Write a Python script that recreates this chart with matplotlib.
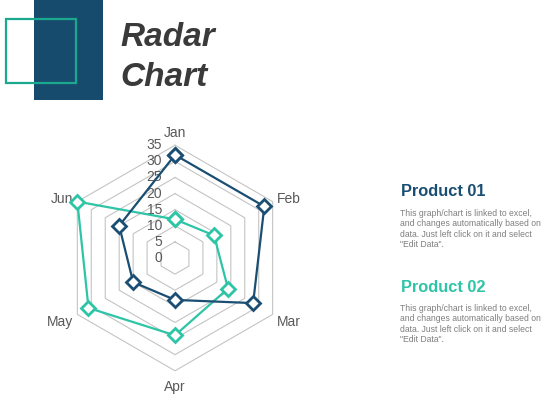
import numpy as np
import matplotlib
matplotlib.use("Agg")
import matplotlib.pyplot as plt
from matplotlib.patches import Rectangle

plt.rcParams["font.family"] = ["Liberation Sans", "DejaVu Sans"]

MONTHS = ["Jan", "Feb", "Mar", "Apr", "May", "Jun"]
PRODUCT_01 = [32, 32, 28, 13, 15, 20]
PRODUCT_02 = [12, 14, 19, 24, 31, 35]
RING_TICKS = [0, 5, 10, 15, 20, 25, 30, 35]
SERIES_NAMES = ["Product 01", "Product 02"]
BLURB = ('This graph/chart is linked to excel,\nand changes automatically based on\n'
         'data. Just left click on it and select\n"Edit Data".')

DARK = "#1a4e72"
TEAL = "#2ec4a6"
GRID = "#c4c4c4"
TEXT = "#595959"


def to_xy(values):
    ang = np.pi / 2 - np.arange(len(MONTHS)) * 2 * np.pi / len(MONTHS)
    r = np.asarray(values, dtype=float)
    return r * np.cos(ang), r * np.sin(ang)


fig = plt.figure(figsize=(5.6, 4.2), dpi=100)

# header / decorations in pixel coordinates
deco = fig.add_axes([0, 0, 1, 1])
deco.set_xlim(0, 560)
deco.set_ylim(420, 0)
deco.axis("off")
deco.add_patch(Rectangle((34, 0), 69, 100, facecolor="#174b6e", edgecolor="none"))
deco.add_patch(Rectangle((6, 19), 70, 64, facecolor="none", edgecolor="#1aa88e", lw=1.6))
deco.text(120, 37, "Radar", fontsize=24, fontweight="bold", fontstyle="italic",
          color="#3a3a3a", va="center")
deco.text(120, 77, "Chart", fontsize=24, fontweight="bold", fontstyle="italic",
          color="#3a3a3a", va="center")

for name, col, y0 in zip(SERIES_NAMES, [DARK, TEAL], [192, 287]):
    deco.text(401, y0, name, fontsize=11.8, fontweight="bold", color=col, va="center")
    deco.text(400, y0 + 17, BLURB, fontsize=6.2, color="#7f7f7f", va="top",
              linespacing=1.2)

# radar chart
ax = fig.add_axes([30 / 560, 17 / 420, 290 / 560, 290 / 420])
ax.set_xlim(-45, 45)
ax.set_ylim(-45, 45)
ax.set_aspect("equal")
ax.axis("off")

for t in RING_TICKS[1:]:
    gx, gy = to_xy([t] * len(MONTHS))
    ax.plot(np.append(gx, gx[0]), np.append(gy, gy[0]), color=GRID, lw=0.8, zorder=1)
for t in RING_TICKS:
    ax.text(-4, t, str(t), fontsize=10, color=TEXT, ha="right", va="center")

lx, ly = to_xy([36.5] * len(MONTHS))
for m, x, y in zip(MONTHS, lx, ly):
    if abs(x) < 1:
        ax.text(x, y + (0 if y > 0 else -1.5), m, fontsize=10, color=TEXT, ha="center",
                va="bottom" if y > 0 else "top")
    else:
        ax.text(x, y - (1.5 if y < 0 else 0), m, fontsize=10, color=TEXT,
                ha="left" if x > 0 else "right", va="center")

for vals, col in [(PRODUCT_02, TEAL), (PRODUCT_01, DARK)]:
    px, py = to_xy(vals)
    ax.plot(np.append(px, px[0]), np.append(py, py[0]), color=col, lw=1.6,
            marker="D", markersize=7, markerfacecolor="white",
            markeredgecolor=col, markeredgewidth=2, zorder=3)

fig.savefig("out.png", dpi=100)
